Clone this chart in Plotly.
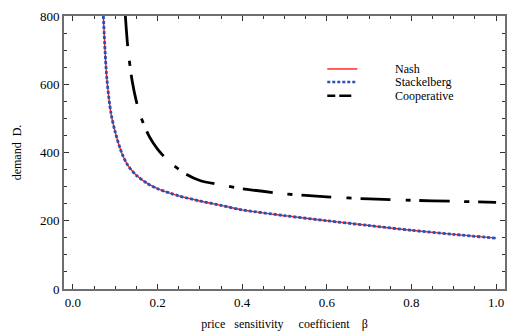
import plotly.graph_objects as go

# price sensitivity coefficient grid and demand for the non-cooperative games
beta_nc = [0.072, 0.08, 0.09, 0.10, 0.115, 0.13, 0.15, 0.175, 0.20, 0.25, 0.30,
           0.35, 0.40, 0.50, 0.60, 0.70, 0.80, 0.90, 1.00]
demand_nash = [800, 620, 515, 460, 400, 362, 333, 310, 294, 273, 258,
               245, 232, 215, 200, 186, 172, 160, 149]
demand_stackelberg = [800, 620, 515, 460, 400, 362, 333, 310, 294, 273, 258,
                      245, 232, 215, 200, 186, 172, 160, 149]

# cooperative case
beta_coop = [0.124, 0.13, 0.14, 0.15, 0.162, 0.18, 0.20, 0.23, 0.27, 0.30, 0.35,
             0.40, 0.50, 0.60, 0.70, 0.80, 0.90, 1.00]
demand_coop = [800, 705, 610, 550, 500, 448, 410, 370, 335, 318, 305,
               294, 279, 270, 264, 260, 257, 254]

x_ticks = [0.0, 0.2, 0.4, 0.6, 0.8, 1.0]
y_ticks = [0, 200, 400, 600, 800]

series = [
    ("Nash", beta_nc, demand_nash, dict(color="#ff1a1a", width=1.4, dash="solid")),
    ("Stackelberg", beta_nc, demand_stackelberg, dict(color="#2a50b4", width=2.8, dash="3px,2px")),
    ("Cooperative", beta_coop, demand_coop, dict(color="#000000", width=2.8, dash="30px,15px,5px,9px")),
]

SERIF = "Liberation Serif, Times New Roman, serif"
NB = "\u00a0"

fig = go.Figure()
for name, xs, ys, line in series:
    fig.add_trace(go.Scatter(x=xs, y=ys, mode="lines", name=name,
                             line=dict(shape="spline", smoothing=0.8, **line),
                             showlegend=False))

# legend drawn as line samples with labels inside the plot area
legend_y = [0.806, 0.758, 0.708]
legend_dash = ["solid", "3px,2px", "8px,4px,12px,6px,3px,6px"]
for (name, _, _, line), ly, ld in zip(series, legend_y, legend_dash):
    fig.add_shape(type="line", xref="paper", yref="paper",
                  x0=0.597, x1=0.665, y0=ly, y1=ly,
                  line=dict(color=line["color"], width=min(line["width"], 2.4), dash=ld))
    fig.add_annotation(xref="paper", yref="paper", x=0.745, y=ly, text=name,
                       showarrow=False, xanchor="left", yanchor="middle",
                       font=dict(family=SERIF, size=12, color="#000"))

axis_common = dict(
    showline=True, linecolor="#6e6e6e", linewidth=1.8, mirror="ticks",
    ticks="inside", tickcolor="#333", ticklen=5, tickwidth=1,
    showgrid=False, zeroline=False,
    tickfont=dict(family=SERIF, size=13, color="#000"),
)

x_title = ("price" + NB * 3 + "sensitivity" + NB * 5 + "coefficient" + NB * 4 + "β")
y_title = "demand" + NB * 2 + "D."

fig.update_xaxes(range=[-0.021, 1.021], tickvals=x_ticks,
                 ticktext=[f"{v:.1f}" for v in x_ticks],
                 minor=dict(dtick=0.05, ticks="inside", ticklen=3, tickcolor="#333"),
                 title=dict(text=x_title, standoff=11,
                            font=dict(family=SERIF, size=12, color="#000")),
                 **axis_common)
fig.update_yaxes(range=[0, 800], tickvals=y_ticks,
                 minor=dict(dtick=50, ticks="inside", ticklen=3, tickcolor="#333"),
                 title=dict(text=y_title, standoff=16,
                            font=dict(family=SERIF, size=12, color="#000")),
                 **axis_common)

fig.update_layout(
    width=512, height=335,
    margin=dict(l=64, r=5, t=16, b=46),
    paper_bgcolor="white", plot_bgcolor="white",
)

fig.write_html("out.html")
